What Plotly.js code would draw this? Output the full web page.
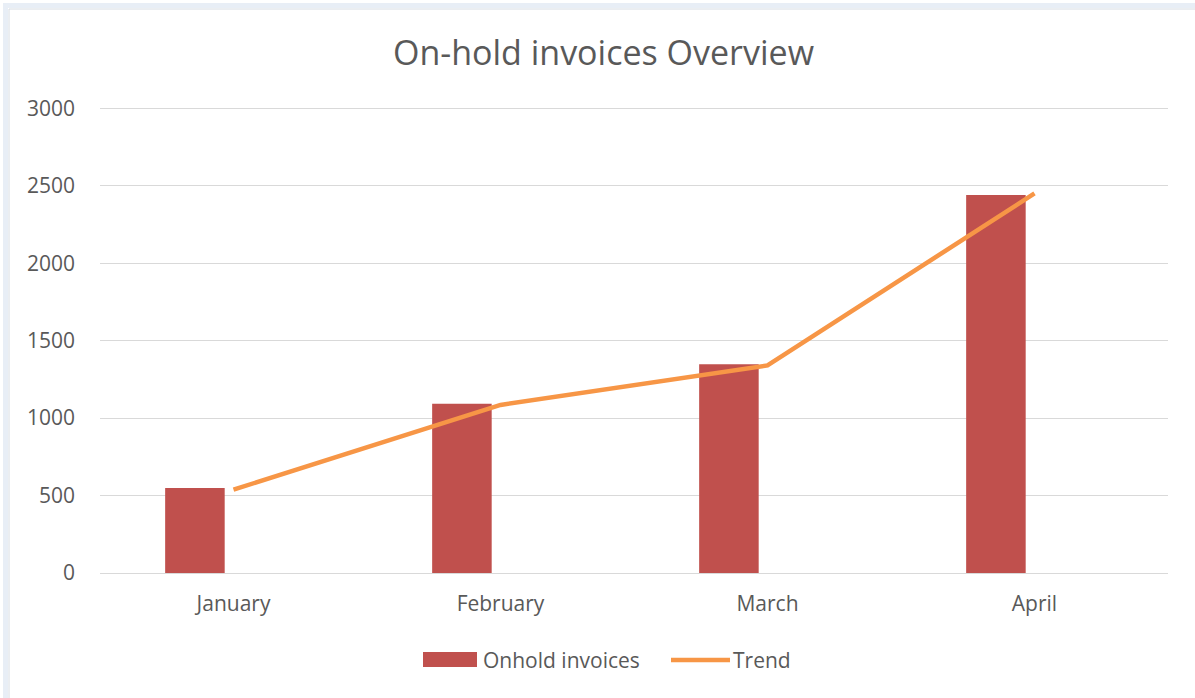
<!DOCTYPE html>
<html>
<head>
<meta charset="utf-8">
<script src="https://cdn.plot.ly/plotly-3.0.1.min.js"></script>
<style>
  html, body { margin: 0; padding: 0; background: #ffffff; }
  #chart { width: 1195px; height: 698px; }
</style>
</head>
<body>
<div id="chart"></div>
<script>
const months = ["January", "February", "March", "April"];
const onholdInvoices = [548, 1092, 1348, 2440];
const trend = [538, 1085, 1340, 2450];
const yTicks = [0, 500, 1000, 1500, 2000, 2500, 3000];
const seriesNames = ["Onhold invoices", "Trend"];
const seriesColors = ["#C0504D", "#F79646"];

const textColor = "#595959";
const fontFamily = "Open Sans, Noto Sans, sans-serif";

const data = [
  {
    type: "bar",
    name: seriesNames[0],
    x: months,
    y: onholdInvoices,
    width: 0.223,
    offset: -0.256,
    marker: { color: seriesColors[0] },
    showlegend: false,
    hoverinfo: "x+y+name"
  },
  {
    type: "scatter",
    mode: "lines",
    name: seriesNames[1],
    x: months,
    y: trend,
    line: { color: seriesColors[1], width: 4.5 },
    showlegend: false,
    hoverinfo: "x+y+name"
  }
];

// plot area: 466 px tall, 1068 px wide
const PH = 466, PW = 1068, PL = 100, PB = 573;
const px = v => (v - PL) / PW;
const py = v => (PB - v) / PH;
const legendY = py(660);

const layout = {
  width: 1195,
  height: 698,
  margin: { l: 100, r: 27, t: 107, b: 125 },
  paper_bgcolor: "#ffffff",
  plot_bgcolor: "#ffffff",
  font: { family: fontFamily, color: textColor, size: 16 },
  title: {
    text: "On-hold invoices Overview",
    font: { family: fontFamily, size: 34, color: textColor },
    x: 0.505, xanchor: "center",
    y: 0.924, yanchor: "middle"
  },
  xaxis: {
    type: "category",
    range: [-0.5, 3.5],
    showgrid: false,
    showline: false,
    zeroline: false,
    ticks: "",
    tickfont: { family: fontFamily, size: 21, color: textColor },
    ticklabelstandoff: 16,
    fixedrange: true
  },
  yaxis: {
    range: [0, 3008],
    tickvals: yTicks,
    ticktext: yTicks.map(String),
    showgrid: true,
    gridcolor: "#d9d9d9",
    gridwidth: 1,
    zeroline: true,
    zerolinecolor: "#d9d9d9",
    zerolinewidth: 1,
    showline: false,
    ticks: "",
    tickfont: { family: fontFamily, size: 21, color: textColor },
    ticklabelstandoff: 24,
    fixedrange: true
  },
  showlegend: false,
  shapes: [
    { type: "rect", xref: "paper", yref: "paper",
      x0: px(3), x1: px(8), y0: py(720), y1: py(3),
      line: { width: 0 }, fillcolor: "#e8eef6", layer: "below" },
    { type: "rect", xref: "paper", yref: "paper",
      x0: px(3), x1: px(1220), y0: py(8), y1: py(3),
      line: { width: 0 }, fillcolor: "#e8eef6", layer: "below" },
    { type: "rect", xref: "paper", yref: "paper",
      x0: px(9), x1: px(1220), y0: py(720), y1: py(9),
      line: { color: "#d6dce3", width: 1 }, fillcolor: "rgba(0,0,0,0)", layer: "below" },
    // custom legend swatches
    { type: "rect", xref: "paper", yref: "paper",
      x0: px(423), x1: px(477), y0: py(667), y1: py(652),
      line: { width: 0 }, fillcolor: seriesColors[0] },
    { type: "line", xref: "paper", yref: "paper",
      x0: px(671), x1: px(730), y0: legendY, y1: legendY,
      line: { color: seriesColors[1], width: 4.5 } }
  ],
  annotations: [
    { xref: "paper", yref: "paper", x: px(481), y: legendY,
      xanchor: "left", yanchor: "middle", showarrow: false,
      text: seriesNames[0], font: { family: fontFamily, size: 21, color: textColor } },
    { xref: "paper", yref: "paper", x: px(731), y: legendY,
      xanchor: "left", yanchor: "middle", showarrow: false,
      text: seriesNames[1], font: { family: fontFamily, size: 21, color: textColor } }
  ]
};

Plotly.newPlot("chart", data, layout, { displayModeBar: false });
</script>
</body>
</html>
